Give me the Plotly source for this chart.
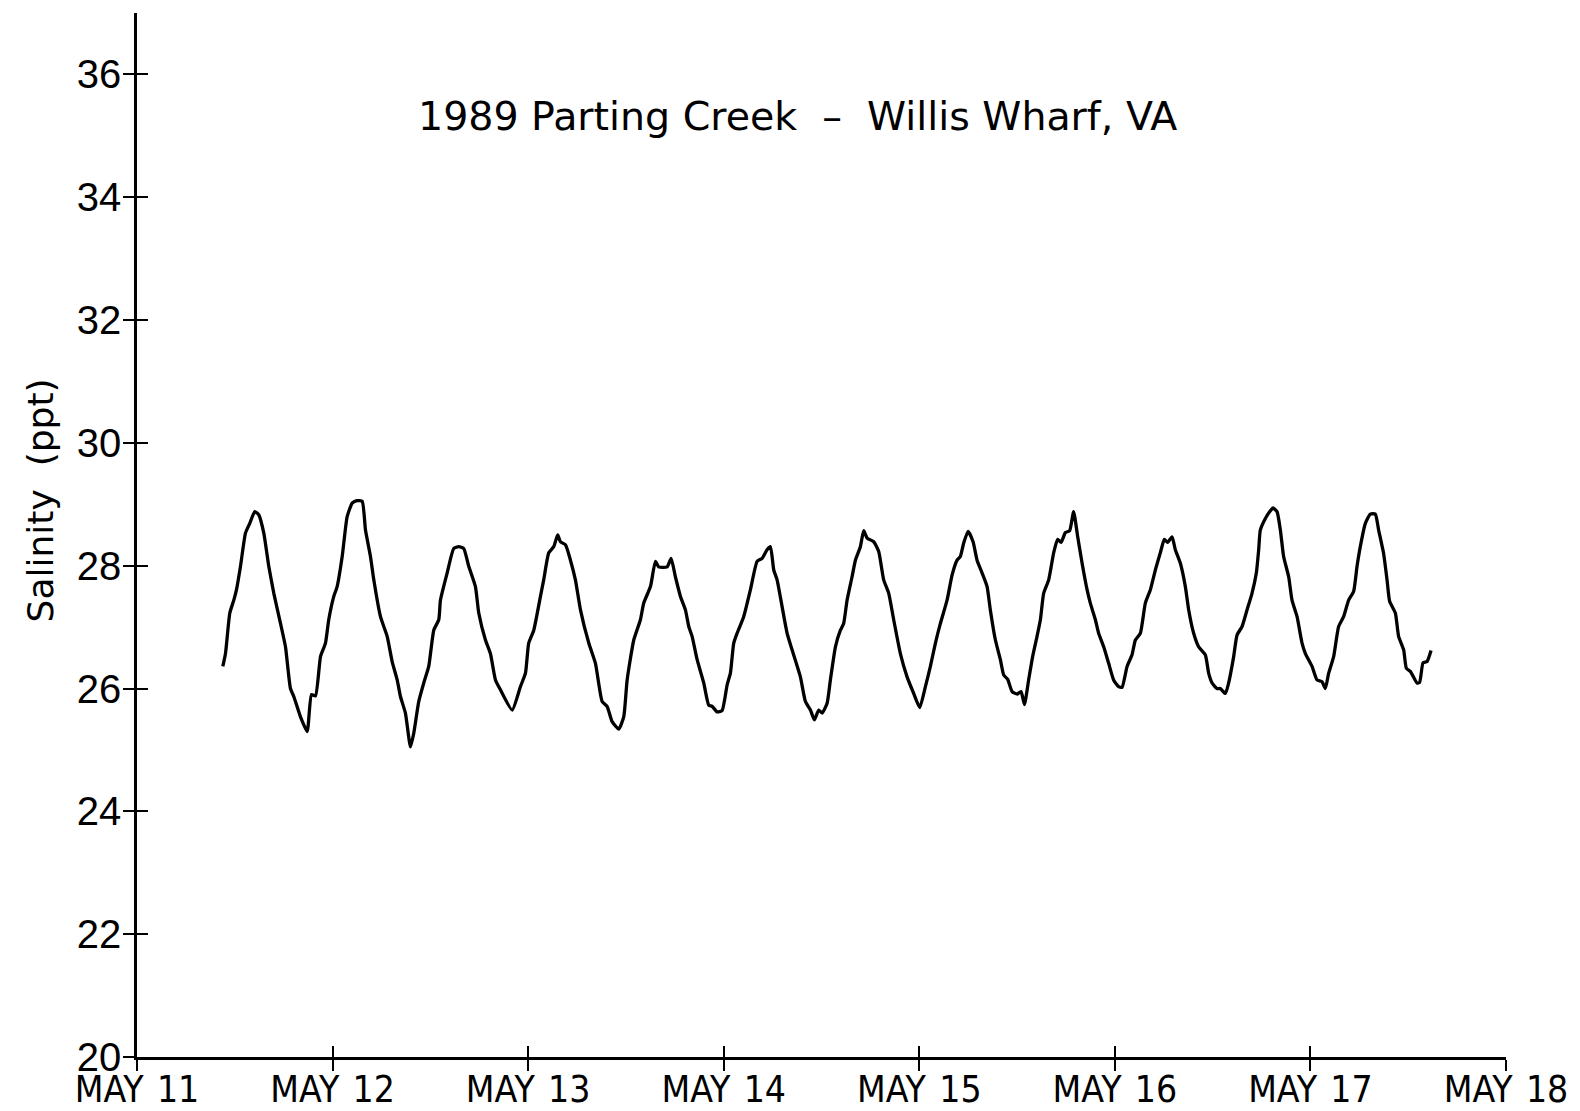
import pandas as pd
import plotly.graph_objects as go

# Salinity record, Parting Creek at Willis Wharf, VA (May 1989).
# Hours elapsed since 1989-05-11 00:00 and salinity in parts per thousand.
hours = [
    10.53, 10.86, 11.39, 11.88, 12.21, 12.70, 13.31, 13.84, 14.45, 14.94,
    15.56, 16.17, 16.79, 17.61, 18.22, 18.83, 19.24, 20.06, 20.88, 21.41,
    21.90, 22.52, 23.13, 23.53, 24.15, 24.56, 25.18, 25.79, 26.41, 27.02,
    27.63, 28.04, 28.65, 29.06, 29.88, 30.70, 31.31, 31.93, 32.33, 32.94,
    33.56, 33.96, 34.58, 35.19, 35.80, 36.42, 37.03, 37.24, 38.06, 38.87,
    39.48, 40.10, 40.71, 41.53, 41.94, 42.76, 43.37, 43.99, 44.60, 46.04,
    47.05, 47.67, 48.07, 48.69, 49.51, 49.91, 50.53, 51.14, 51.63, 51.96,
    52.58, 53.19, 53.80, 54.42, 55.44, 56.26, 57.08, 57.69, 58.31, 59.12,
    59.73, 60.15, 60.96, 61.78, 62.18, 63.01, 63.62, 64.02, 65.06, 65.55,
    66.07, 66.69, 67.30, 67.71, 68.12, 68.74, 69.55, 70.16, 70.58, 71.19,
    71.80, 72.42, 72.82, 73.23, 73.64, 74.45, 75.28, 76.10, 76.71, 77.32,
    77.73, 78.14, 78.55, 79.17, 79.78, 80.39, 81.41, 82.02, 82.64, 83.13,
    83.66, 84.07, 84.69, 85.09, 85.71, 86.32, 86.72, 87.14, 87.75, 88.16,
    88.77, 89.18, 89.60, 90.41, 91.02, 91.63, 92.25, 92.86, 93.68, 94.50,
    95.31, 96.05, 96.75, 97.36, 97.98, 98.59, 99.41, 100.03, 100.64, 101.04,
    101.45, 101.99, 102.60, 103.09, 103.71, 104.32, 104.72, 105.34, 105.95, 106.36,
    106.85, 107.39, 108.00, 108.49, 108.90, 109.42, 109.91, 110.45, 110.86, 111.26,
    111.88, 112.49, 112.98, 113.40, 113.93, 114.45, 114.94, 115.44, 115.98, 116.59,
    116.99, 117.61, 118.01, 118.63, 119.24, 119.85, 120.47, 120.88, 121.50, 122.11,
    122.52, 123.13, 123.74, 124.36, 124.97, 125.58, 126.07, 126.48, 127.02, 127.42,
    128.04, 128.65, 129.06, 129.67, 130.28, 131.10, 131.51, 131.93, 132.54, 132.94,
    133.56, 133.96, 134.58, 134.99, 135.61, 136.22, 136.83, 137.36, 137.65, 137.85,
    138.47, 138.99, 139.41, 139.90, 140.31, 140.71, 141.33, 141.74, 142.36, 142.97,
    143.38, 144.20, 144.81, 145.42, 145.83, 146.24, 146.85, 147.46, 148.07, 148.69,
    149.30, 149.72, 150.12, 150.74, 151.35, 151.96, 152.37, 152.98, 153.40, 153.72,
    154.42, 154.82, 155.44, 155.77, 156.26, 157.08, 157.40, 157.82, 158.31, 158.80,
]
salinity = [
    26.36, 26.57, 27.23, 27.44, 27.61, 27.99, 28.53, 28.69, 28.88, 28.83,
    28.53, 27.99, 27.55, 27.06, 26.68, 26.00, 25.87, 25.54, 25.30, 25.90,
    25.88, 26.52, 26.74, 27.12, 27.50, 27.66, 28.15, 28.80, 29.02, 29.06,
    29.05, 28.58, 28.15, 27.77, 27.17, 26.85, 26.44, 26.14, 25.87, 25.60,
    25.05, 25.27, 25.79, 26.09, 26.36, 26.95, 27.12, 27.44, 27.88, 28.28,
    28.31, 28.28, 27.99, 27.66, 27.23, 26.79, 26.57, 26.14, 25.98, 25.65,
    26.03, 26.25, 26.74, 26.95, 27.50, 27.77, 28.21, 28.31, 28.50, 28.39,
    28.34, 28.09, 27.77, 27.28, 26.74, 26.41, 25.79, 25.71, 25.46, 25.34,
    25.54, 26.14, 26.79, 27.12, 27.39, 27.66, 28.07, 27.98, 27.98, 28.12,
    27.82, 27.50, 27.28, 27.01, 26.85, 26.47, 26.09, 25.73, 25.71, 25.62,
    25.64, 26.06, 26.25, 26.74, 26.90, 27.17, 27.61, 28.07, 28.12, 28.26,
    28.31, 27.93, 27.77, 27.33, 26.90, 26.63, 26.19, 25.79, 25.65, 25.49,
    25.65, 25.60, 25.76, 26.14, 26.68, 26.95, 27.06, 27.44, 27.82, 28.09,
    28.31, 28.57, 28.45, 28.39, 28.23, 27.77, 27.55, 27.12, 26.57, 26.19,
    25.92, 25.69, 26.03, 26.36, 26.74, 27.06, 27.44, 27.85, 28.09, 28.15,
    28.37, 28.56, 28.39, 28.09, 27.88, 27.66, 27.28, 26.79, 26.47, 26.22,
    26.15, 25.95, 25.91, 25.95, 25.74, 26.14, 26.52, 26.85, 27.12, 27.55,
    27.77, 28.21, 28.43, 28.38, 28.54, 28.57, 28.88, 28.47, 28.04, 27.61,
    27.39, 27.12, 26.90, 26.68, 26.41, 26.14, 26.03, 26.02, 26.36, 26.55,
    26.79, 26.90, 27.39, 27.61, 27.93, 28.21, 28.43, 28.38, 28.47, 28.26,
    28.04, 27.66, 27.28, 26.90, 26.68, 26.55, 26.25, 26.09, 26.00, 26.00,
    25.92, 26.09, 26.52, 26.87, 27.01, 27.28, 27.55, 27.88, 28.26, 28.58,
    28.77, 28.88, 28.94, 28.88, 28.58, 28.15, 27.82, 27.44, 27.17, 26.74,
    26.57, 26.36, 26.14, 26.11, 26.00, 26.25, 26.52, 27.01, 27.17, 27.44,
    27.58, 27.99, 28.31, 28.69, 28.84, 28.84, 28.58, 28.20, 27.77, 27.42,
    27.23, 26.85, 26.63, 26.33, 26.28, 26.09, 26.10, 26.42, 26.44, 26.62,
]

day_ticks = ["1989-05-11", "1989-05-12", "1989-05-13", "1989-05-14",
             "1989-05-15", "1989-05-16", "1989-05-17", "1989-05-18"]
day_labels = ["MAY\u2009\u200911", "MAY\u2009\u200912", "MAY\u2009\u200913",
              "MAY\u2009\u200914", "MAY\u2009\u200915", "MAY\u2009\u200916",
              "MAY\u2009\u200917", "MAY\u2009\u200918"]
salinity_ticks = [20, 22, 24, 26, 28, 30, 32, 34, 36]

start = pd.Timestamp("1989-05-11")
times = start + pd.to_timedelta(hours, unit="h")

x_range = [day_ticks[0], day_ticks[-1]]
y_range = [20, 37]

INK = "#000000"
TICK_FONT = dict(family="Liberation Sans, Arial, sans-serif", size=40, color=INK)
DATE_FONT = dict(family="Liberation Sans Narrow, DejaVu Sans Condensed, Liberation Sans, sans-serif",
                 size=37, color=INK)

fig = go.Figure()
fig.add_trace(go.Scatter(
    x=times, y=salinity, mode="lines",
    line=dict(color=INK, width=3.3, shape="spline", smoothing=0.5),
    showlegend=False, hoverinfo="x+y",
))
# empty trace that carries the overlay axes (inward half of the cross ticks)
fig.add_trace(go.Scatter(x=[], y=[], xaxis="x2", yaxis="y2",
                         showlegend=False, hoverinfo="skip"))

axis_common = dict(showgrid=False, zeroline=False, showline=True,
                   linecolor=INK, linewidth=2.6, tickcolor=INK,
                   tickwidth=2.4, ticklen=11, automargin=False)

fig.update_layout(
    width=1580, height=1111,
    margin=dict(l=136.5, r=74, t=13.2, b=54, pad=0),
    paper_bgcolor="white", plot_bgcolor="white",
    xaxis=dict(type="date", range=x_range, tickmode="array",
               tickvals=day_ticks, ticktext=day_labels, ticks="outside",
               tickfont=DATE_FONT, ticklabelstandoff=-13, **axis_common),
    yaxis=dict(range=y_range, tickmode="array", tickvals=salinity_ticks,
               ticks="outside", tickfont=TICK_FONT, ticklabelstandoff=-6,
               **axis_common),
    xaxis2=dict(type="date", range=x_range, tickmode="array",
                tickvals=day_ticks, ticks="inside", showticklabels=False,
                overlaying="x", anchor="y2", side="bottom", **axis_common),
    yaxis2=dict(range=y_range, tickmode="array", tickvals=salinity_ticks,
                ticks="inside", showticklabels=False,
                overlaying="y", anchor="x2", side="left", **axis_common),
    annotations=[
        dict(text="1989 Parting Creek\u00a0\u00a0–\u00a0\u00a0Willis Wharf, VA",
             xref="paper", yref="paper", x=0.4823, y=0.9015,
             xanchor="center", yanchor="middle", showarrow=False,
             font=dict(family="DejaVu Sans, Liberation Sans, sans-serif",
                       size=39.5, color=INK)),
        dict(text="Salinity\u00a0\u00a0(ppt)",
             xref="paper", yref="paper", x=-0.0705, y=0.5336,
             xanchor="center", yanchor="middle", showarrow=False,
             textangle=-90,
             font=dict(family="DejaVu Sans, Liberation Sans, sans-serif",
                       size=36, color=INK)),
    ],
)

fig.write_html("out.html")
